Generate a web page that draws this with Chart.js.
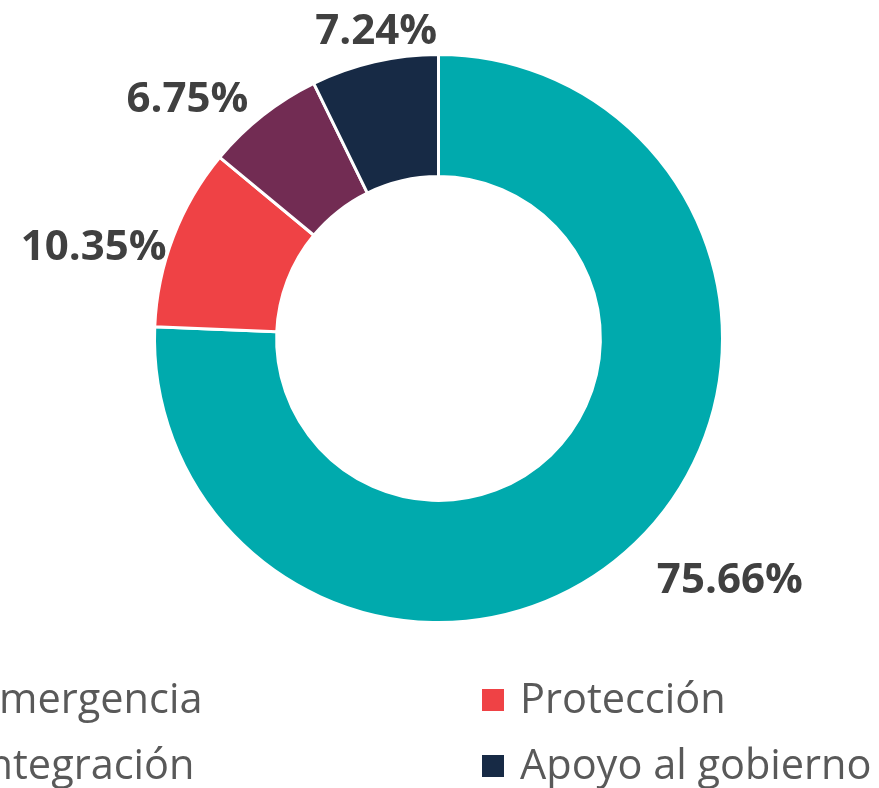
<!DOCTYPE html>
<html>
<head>
<meta charset="utf-8">
<script src="https://cdn.jsdelivr.net/npm/chart.js@4"></script>
<style>
  html, body { margin: 0; padding: 0; background: #fff; overflow: hidden; }
  #caja { position: relative; width: 879px; height: 788px; }
</style>
</head>
<body>
<div id="caja"><canvas id="graficoDona"></canvas></div>
<script>
// Datos
const categorias = ["Emergencia", "Protección", "Integración", "Apoyo al gobierno"];
const porcentajes = [75.66, 10.35, 6.75, 7.24];
const colores = ["#00AAAD", "#EF4245", "#722C53", "#172A45"];

// etiquetas de porcentaje fuera del anillo (colocadas a mano como en el original)
const etiquetasPlugin = {
  id: "etiquetas",
  afterDraw(chart, args, opts) {
    const ctx = chart.ctx;
    const arcos = chart.getDatasetMeta(0).data;
    ctx.save();
    ctx.font = "bold 42px 'Open Sans'";
    ctx.fillStyle = "#404040";
    ctx.textAlign = "center";
    ctx.textBaseline = "middle";
    arcos.forEach((arco, i) => {
      const p = arco.getProps(["x", "y", "startAngle", "endAngle", "outerRadius"], true);
      const ang = (p.startAngle + p.endAngle) / 2 + opts.giro[i] * Math.PI / 180;
      const dist = p.outerRadius * opts.radio[i];
      const texto = porcentajes[i].toFixed(2) + "%";
      ctx.fillText(texto, p.x + Math.cos(ang) * dist, p.y + Math.sin(ang) * dist + 2);
    });
    ctx.restore();
  }
};

// leyenda de dos columnas (la primera queda cortada a la izquierda)
const leyendaPlugin = {
  id: "leyenda",
  afterDraw(chart) {
    const ctx = chart.ctx;
    ctx.save();
    ctx.font = "41.5px 'Open Sans'";
    ctx.textBaseline = "alphabetic";
    ctx.textAlign = "left";
    categorias.forEach((cat, i) => {
      const col = i % 2, fila = Math.floor(i / 2);
      const xTexto = 520 - (1 - col) * 544;
      const base = 713 + fila * 66;
      ctx.fillStyle = colores[i];
      ctx.fillRect(xTexto - 38, base - 24, 22, 22);
      ctx.fillStyle = "#595959";
      ctx.fillText(cat, xTexto, base);
    });
    ctx.restore();
  }
};

new Chart(document.getElementById("graficoDona").getContext("2d"), {
  type: "doughnut",
  data: {
    labels: categorias,
    datasets: [{
      data: porcentajes,
      backgroundColor: colores,
      borderColor: "#ffffff",
      borderWidth: 3
    }]
  },
  options: {
    responsive: true,
    maintainAspectRatio: false,
    animation: false,
    cutout: "57%",
    layout: { padding: { left: 153, right: 155, top: 53, bottom: 164 } },
    plugins: {
      legend: { display: false },
      tooltip: { enabled: false },
      etiquetas: {
        giro: [-6.6, -6, -8, 1.6],
        radio: [1.331, 1.257, 1.225, 1.109]
      }
    }
  },
  plugins: [etiquetasPlugin, leyendaPlugin]
});
</script>
</body>
</html>
